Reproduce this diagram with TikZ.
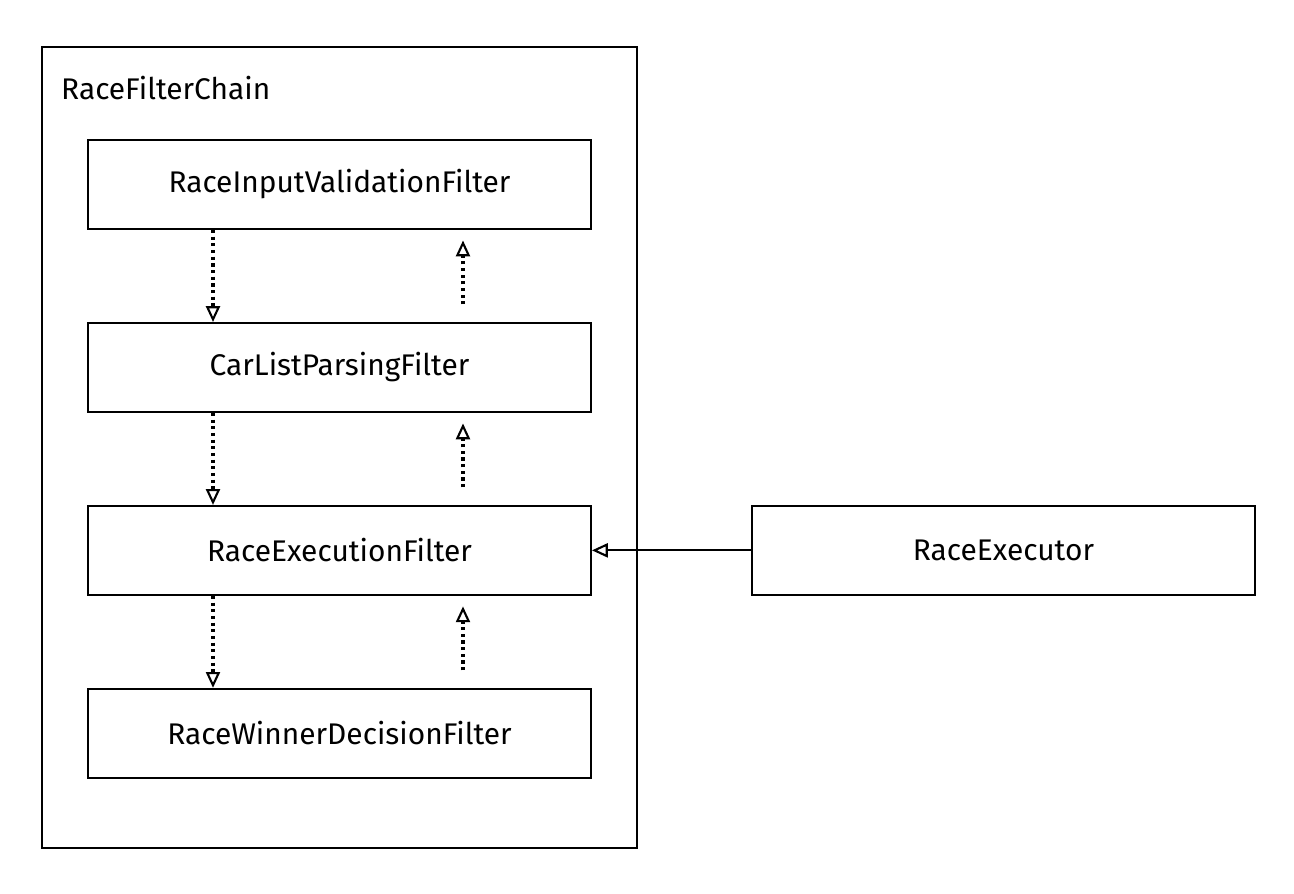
\documentclass[tikz,border=0pt]{standalone}
\usepackage{fontspec}
\setmainfont{Fira Sans}
\usetikzlibrary{arrows.meta, positioning, calc}

\tikzset{
  filterbox/.style={draw, line width=1.1pt, rectangle, minimum width=10.06cm, minimum height=1.78cm, font=\fontsize{17}{20}\selectfont},
  callnext/.style={dotted, line width=1.8pt, -{Triangle[open, length=9pt, width=8pt, line width=1.2pt]}},
  callback/.style={callnext, shorten <=10pt, shorten >=6pt}
}

\begin{document}
\begin{tikzpicture}
        % canvas 1294 x 894 px, 1px = 0.02cm
        \useasboundingbox (0,0) rectangle (25.88,-17.88);
        \draw[line width=1.1pt] (0.84,-0.94) rectangle (12.74,-16.96);
        \node[anchor=west, font=\fontsize{17}{20}\selectfont] (chain) at (1.1,-1.76) {RaceFilterChain};

        % filters
        \node[filterbox] (input) at (6.79,-3.69) {RaceInputValidationFilter};
        \node[filterbox, below=1.84cm of input] (parsing) {CarListParsingFilter};
        \node[filterbox, below=1.84cm of parsing] (execution) {RaceExecutionFilter};
        \node[filterbox, below=1.84cm of execution] (winner) {RaceWinnerDecisionFilter};
        \node[filterbox, right=3.18cm of execution] (executor) {RaceExecutor};

        % chain forward
        \draw[callnext] ($(input.south)+(-2.53,0)$) -- ($(parsing.north)+(-2.53,0)$);
        \draw[callnext] ($(parsing.south)+(-2.53,0)$) -- ($(execution.north)+(-2.53,0)$);
        \draw[callnext] ($(execution.south)+(-2.53,0)$) -- ($(winner.north)+(-2.53,0)$);

        % chain back
        \draw[callback] ($(parsing.north)+(2.47,0)$) -- ($(input.south)+(2.47,0)$);
        \draw[callback] ($(execution.north)+(2.47,0)$) -- ($(parsing.south)+(2.47,0)$);
        \draw[callback] ($(winner.north)+(2.47,0)$) -- ($(execution.south)+(2.47,0)$);

        \draw[line width=1.1pt, -{Triangle[open, length=9pt, width=8pt, line width=1.2pt]}] (executor.west) -- (execution.east);
    \end{tikzpicture}
\end{document}
